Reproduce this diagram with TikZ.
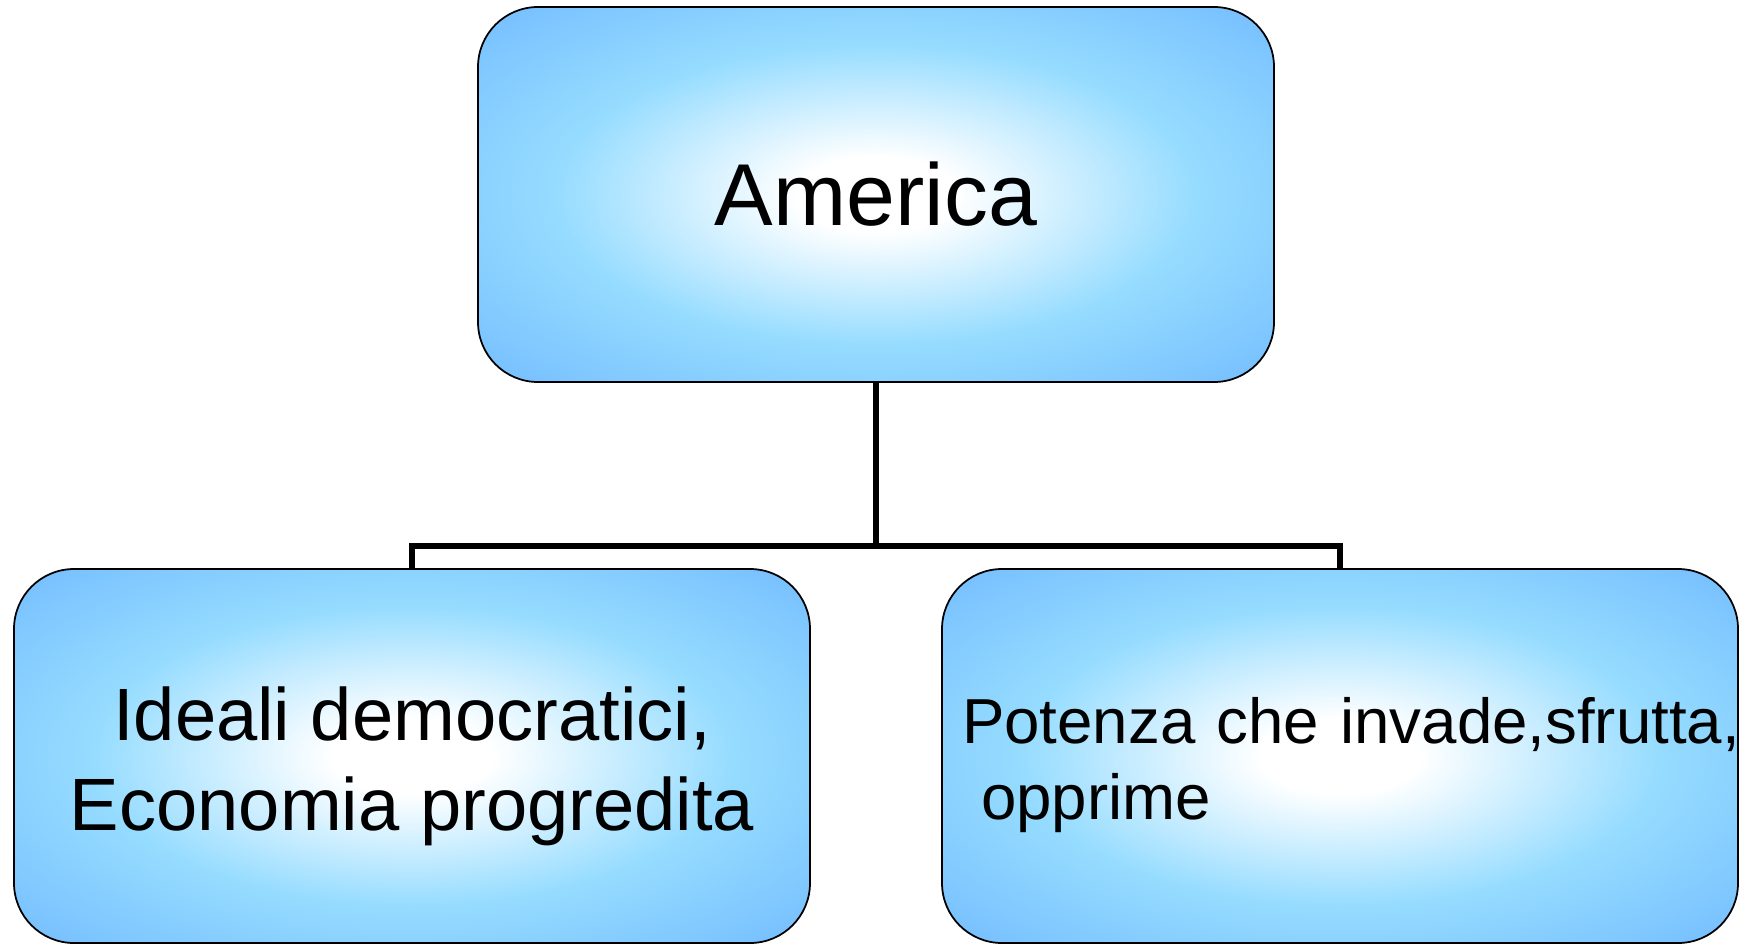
\documentclass[tikz,border=0pt]{standalone}
\usepackage{fontspec}
\setmainfont{Liberation Sans}
\usetikzlibrary{positioning}

\definecolor{edgeblue}{RGB}{106,180,255}
\definecolor{midblue}{RGB}{150,220,255}
\pgfdeclareradialshading{boxglow}{\pgfpoint{0bp}{0bp}}{color(0bp)=(white); color(5bp)=(white); color(20bp)=(midblue); color(40bp)=(edgeblue); color(50bp)=(edgeblue)}

\begin{document}
\begin{tikzpicture}
[box/.style ={rectangle, draw=black, line width=0.5pt, shading=boxglow,
rounded corners=0.6cm, minimum width=7.96cm, minimum height=3.75cm,
align=center},
link/.style ={draw, line width=1.6pt}]
\useasboundingbox (0,0) rectangle (17.47,-9.44);
% top row
\node [box, font=\fontsize{25}{30}\selectfont] (america) at (8.76,-1.945) {America};
% bottom row
\node [box, minimum height=3.74cm, font=\fontsize{21.1}{25.6}\selectfont] (ideali) at (4.12,-7.56)
  {\rule{0pt}{1em}Ideali democratici,\\Economia progredita};
\node [box, minimum height=3.74cm, align=left, inner xsep=0.05cm, text width=7.86cm,
  font=\fontsize{18.1}{21.6}\selectfont] (potenza) at (13.40,-7.56)
  {\rule{0pt}{1em}\hspace*{0.15cm}\mbox{Potenza che invade,sfrutta,}\\\hspace*{0.15cm}\hspace*{0.3em}opprime};
\path [link] (america.south) -- ++(0,-1.63) coordinate (fork);
\path [link] (fork) -| (ideali.north);
\path [link] (fork) -| (potenza.north);
\end{tikzpicture}
\end{document}
